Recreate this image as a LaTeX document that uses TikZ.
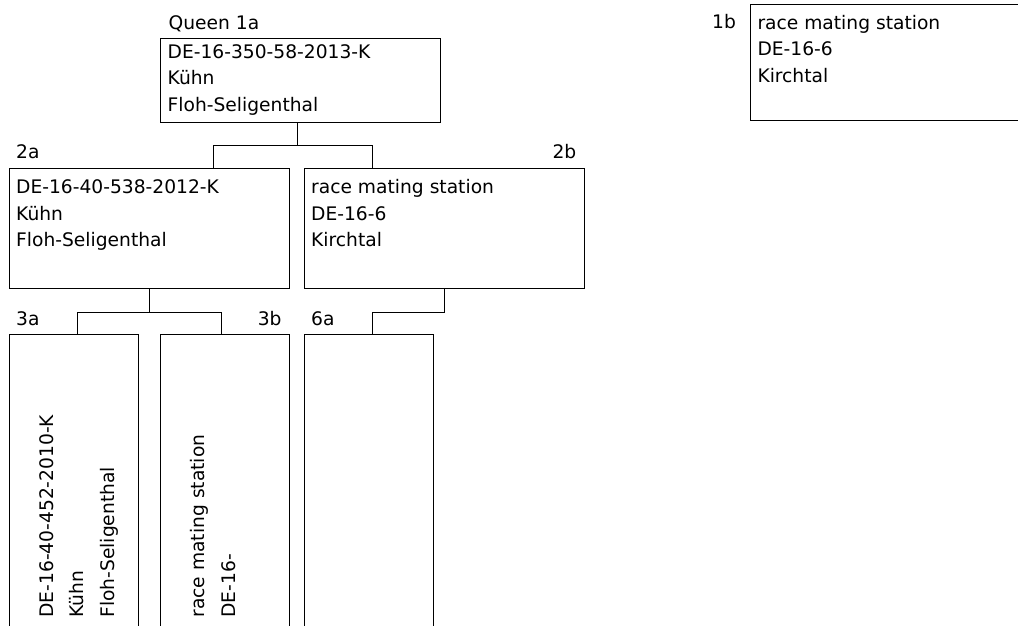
\documentclass[tikz,border=0pt]{standalone}
\usepackage{fontspec}
\setmainfont{DejaVu Sans}
\usetikzlibrary{positioning}

\begin{document}
\begin{tikzpicture}[x=1pt,y=-1pt,font=\fontsize{18.67}{26.3}\selectfont]

            % Define styles (base anchor = last line)
            \tikzstyle{cell} = [rectangle, draw, line width=1pt, inner sep=0pt, minimum width=280pt]
            \tikzstyle{slim} = [rectangle, draw, line width=1pt, inner sep=0pt, minimum width=129pt, minimum height=400pt]
            \tikzstyle{info} = [align=left, anchor=base west, inner sep=0pt]
            \tikzstyle{upright} = [info, rotate=90, font=\fontsize{18.67}{30.5}\selectfont]
            \tikzstyle{tag} = [inner sep=0pt]
            \tikzstyle{link} = [line width=1pt]

            \useasboundingbox (0,0) rectangle (1018,625);
            \clip (0,0) rectangle (1018,625);

            % Boxes
            \node[cell, minimum height=84pt] (q1a) at (300.5,80) {};
            \node[cell, minimum height=116pt] (q1b) at (890.3,62.7) {};
            \node[cell, minimum height=120pt] (q2a) at (149,228) {};
            \node[cell, minimum height=120pt] (q2b) at (444,228) {};
            \node[slim] (q3a) at (73.5,534) {};
            \node[slim] (q3b) at (224.8,534) {};
            \node[slim] (q6a) at (368.5,534) {};

            % Box contents
            \node[info] (t1a) at (167.5,111) {DE-16-350-58-2013-K\\Kühn\\Floh-Seligenthal};
            \node[info] (t1b) at (757.3,82) {race mating station\\DE-16-6\\Kirchtal};
            \node[info] (t2a) at (16,246.3) {DE-16-40-538-2012-K\\Kühn\\Floh-Seligenthal};
            \node[info] (t2b) at (311,246.3) {race mating station\\DE-16-6\\Kirchtal};
            \node[upright] (t3a) at (114,617.8) {DE-16-40-452-2010-K\\Kühn\\Floh-Seligenthal};
            \node[upright] (t3b) at (235,617.7) {race mating station\\DE-16-};

            % Labels
            \node[tag, anchor=base west] (l1a) at (168.5,29.5) {Queen 1a};
            \node[tag, anchor=base west] (l1b) at (712,28.3) {1b};
            \node[tag, anchor=base west] (l2a) at (16,158) {2a};
            \node[tag, anchor=base east] (l2b) at (576.5,158) {2b};
            \node[tag, anchor=base west] (l3a) at (16,325.5) {3a};
            \node[tag, anchor=base east] (l3b) at (281.7,325.5) {3b};
            \node[tag, anchor=base west] (l6a) at (311,325.5) {6a};

            % Lines
            \draw[link] ([xshift=-3.5]q1a.south) -- ++(0,23) -| ([xshift=64.7]q2a.north);
            \draw[link] ([xshift=-3.5]q1a.south) -- ++(0,23) -| ([xshift=-71.7]q2b.north);
            \draw[link] (q2a.south) -- ++(0,23.5) -| ([xshift=3.8]q3a.north);
            \draw[link] (q2a.south) -- ++(0,23.5) -| ([xshift=-3.5]q3b.north);
            \draw[link] (q2b.south) -- ++(0,23.5) -| ([xshift=3.8]q6a.north);

        \end{tikzpicture}
\end{document}
